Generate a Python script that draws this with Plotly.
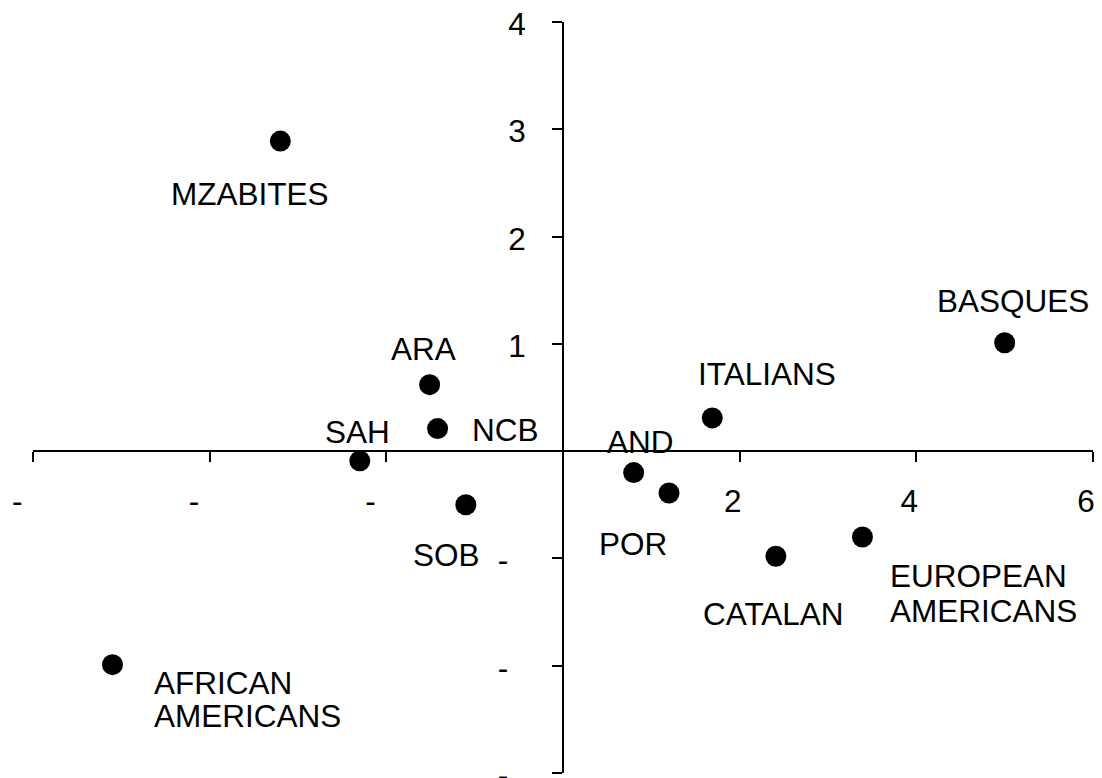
import plotly.graph_objects as go

# ---- data ----
populations = ["MZABITES", "AFRICAN AMERICANS", "ARA", "NCB", "SAH", "SOB",
               "AND", "POR", "ITALIANS", "CATALAN", "EUROPEAN AMERICANS", "BASQUES"]
pc1 = [-3.20, -5.10, -1.51, -1.42, -2.30, -1.10, 0.80, 1.20, 1.69, 2.41, 3.39, 5.00]
pc2 = [2.89, -1.99, 0.62, 0.21, -0.09, -0.50, -0.20, -0.39, 0.31, -0.98, -0.80, 1.01]

x_tickvals = [-6, -4, -2, 0, 2, 4, 6]
x_ticktext = ["-\u00a0\u00a0", "-\u00a0\u00a0", "-\u00a0\u00a0", "", "2", "4", "6"]
y_tickvals = [-3, -2, -1, 0, 1, 2, 3, 4]
y_ticktext = ["-\u00a0\u00a0", "-\u00a0\u00a0", "-\u00a0\u00a0", "", "1", "2", "3", "4"]

# ---- label placement (style: pixel offsets from each point; lines listed separately) ----
label_layout = {
    "MZABITES": [("MZABITES", -30, 53, "center")],
    "AFRICAN AMERICANS": [("AFRICAN", 39, 18, "left"), ("AMERICANS", 39, 51.5, "left")],
    "ARA": [("ARA", -6, -36, "center")],
    "NCB": [("NCB", 68, 1, "center")],
    "SAH": [("SAH", -2.5, -29, "center")],
    "SOB": [("SOB", -19, 50, "center")],
    "AND": [("AND", 7, -31, "center")],
    "POR": [("POR", -36.5, 51, "center")],
    "ITALIANS": [("ITALIANS", 55, -44, "center")],
    "CATALAN": [("CATALAN", -2, 57.5, "center")],
    "EUROPEAN AMERICANS": [("EUROPEAN", 26, 39.5, "left"), ("AMERICANS", 26, 74.5, "left")],
    "BASQUES": [("BASQUES", 8.5, -42, "center")],
}

FONT = "Liberation Sans, Arial, sans-serif"
FS = 31.5

fig = go.Figure()
fig.add_trace(go.Scatter(
    x=pc1, y=pc2, mode="markers", text=populations,
    marker=dict(size=21, color="black", line=dict(width=0)),
    hoverinfo="text", showlegend=False,
))

annotations = []
for name, xv, yv in zip(populations, pc1, pc2):
    for text, dx, dy, align in label_layout[name]:
        annotations.append(dict(
            x=xv, y=yv, xref="x", yref="y", text=text, showarrow=False,
            xanchor=align, yanchor="middle", xshift=dx, yshift=-dy,
            font=dict(family=FONT, size=FS, color="black"),
        ))

axis_common = dict(
    showgrid=False, zeroline=False, showline=True, linecolor="black", linewidth=2,
    ticks="outside", ticklen=10, tickwidth=2, tickcolor="black",
    tickfont=dict(family=FONT, size=FS, color="black"),
    tickmode="array", automargin=False, fixedrange=True,
    ticklabeloverflow="allow",
)

fig.update_layout(
    width=1094, height=770,
    margin=dict(l=25, r=9, t=14, b=5),
    paper_bgcolor="white", plot_bgcolor="white",
    xaxis=dict(range=[-6, 6], tickvals=x_tickvals, ticktext=x_ticktext,
               anchor="free", position=3 / 7, ticklabelshift=-7,
               ticklabelstandoff=12, **axis_common),
    yaxis=dict(range=[-3, 4], tickvals=y_tickvals, ticktext=y_ticktext,
               anchor="free", position=0.5, ticklabelshift=2,
               ticklabelstandoff=20, **axis_common),
    annotations=annotations,
    showlegend=False,
)

fig.write_html("out.html")
